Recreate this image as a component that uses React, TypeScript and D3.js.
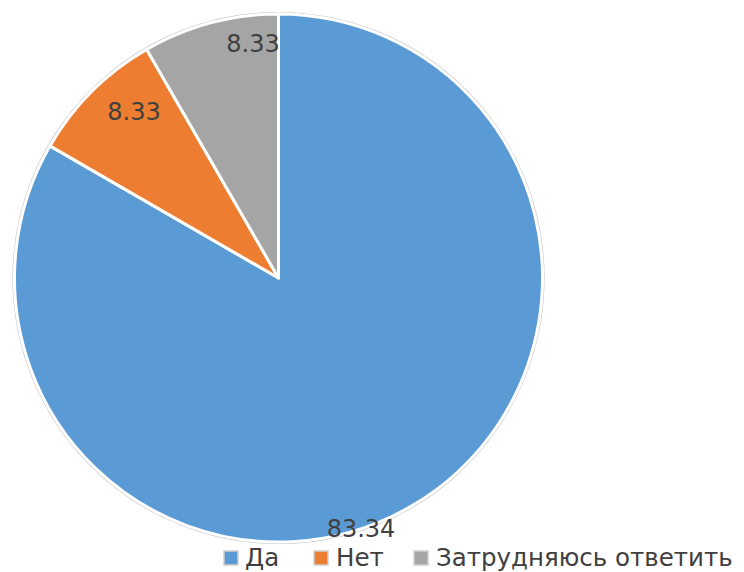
import React from "react";
import * as d3 from "d3";

const categories = ["Да", "Нет", "Затрудняюсь ответить"];
const values = [83.34, 8.33, 8.33];
const labels = ["83.34", "8.33", "8.33"];
const colors = ["#5B9BD5", "#ED7D31", "#A5A5A5"];

const W = 744;
const H = 572;
const cx = 278.5;
const cy = 278;
const R = 264;

// label placement (layout): radius fraction and angular-position nudges
const labelLayout = [
  { rf: 0.95, dx: 0, dy: 0 },
  { rf: 0.82, dx: 0, dy: 0 },
  { rf: 0.89, dx: 0, dy: 0 },
];

export default function App() {
  const pie = d3.pie<number>().sort(null).value((d) => d);
  const arcs = pie(values);
  const arc = d3.arc<d3.PieArcDatum<number>>().innerRadius(0).outerRadius(R);

  const legendItems = [
    { sx: 224, tx: 245 },
    { sx: 314, tx: 336 },
    { sx: 414, tx: 436 },
  ];

  const labelPos = [
    { x: 361, y: 529 },
    { x: 134, y: 112 },
    { x: 253, y: 44 },
  ];

  return (
    <svg width={W} height={H} style={{ position: "absolute", left: 0, top: 0 }}>
      <rect width={W} height={H} fill="#ffffff" />
      <circle cx={cx} cy={cy} r={R + 1.5} fill="none" stroke="#c8c8c8" strokeWidth={1.2} />
      <g transform={`translate(${cx},${cy})`}>
        {arcs.map((a, i) => (
          <path key={i} d={arc(a) || ""} fill={colors[i]} stroke="#ffffff" strokeWidth={3} strokeLinejoin="round" />
        ))}
      </g>
      {arcs.map((a, i) => (
        <text key={i} x={labelPos[i].x} y={labelPos[i].y} textAnchor="middle" dominantBaseline="central"
          fontFamily="DejaVu Sans" fontSize={24} fill="#404040">{labels[i]}</text>
      ))}
      {categories.map((c, i) => (
        <g key={c}>
          <rect x={legendItems[i].sx} y={551} width={14} height={14} fill={colors[i]} stroke="#d0d0d0" strokeWidth={1.5} />
          <text x={legendItems[i].tx} y={565.5} fontFamily="DejaVu Sans" fontSize={24.5} fill="#404040">{c}</text>
        </g>
      ))}
    </svg>
  );
}
